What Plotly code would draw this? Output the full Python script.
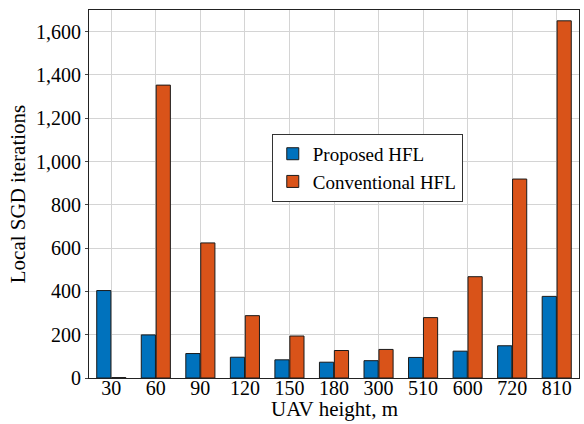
import plotly.graph_objects as go

heights = ["30", "60", "90", "120", "150", "180", "300", "510", "600", "720", "810"]
proposed = [404, 199, 113, 96, 84, 73, 80, 95, 124, 149, 377]
conventional = [2, 1353, 624, 288, 194, 127, 132, 279, 468, 919, 1650]
y_ticks = [0, 200, 400, 600, 800, 1000, 1200, 1400, 1600]

FONT = "Liberation Serif, Times New Roman, serif"

fig = go.Figure()
fig.add_trace(go.Bar(x=heights, y=proposed, name="Proposed HFL",
                     marker=dict(color="#0072BD", line=dict(color="#1a1a1a", width=1))))
fig.add_trace(go.Bar(x=heights, y=conventional, name="Conventional HFL",
                     marker=dict(color="#D95319", line=dict(color="#1a1a1a", width=1))))

fig.update_layout(
    width=584, height=424,
    margin=dict(l=89, r=5, t=10, b=46, autoexpand=False),
    paper_bgcolor="white", plot_bgcolor="white",
    barmode="group", bargap=0.33, bargroupgap=0.05,
    font=dict(family=FONT, size=20, color="black"),
    legend=dict(x=0.373, y=0.571, xanchor="left", yanchor="middle",
                bgcolor="white", bordercolor="#333", borderwidth=1,
                font=dict(family=FONT, size=19), tracegroupgap=0,
                itemwidth=30),
    showlegend=True,
    annotations=[dict(text="UAV height, m", xref="paper", yref="paper",
                      x=0.5, y=-0.083, xanchor="center", yanchor="middle",
                      showarrow=False, font=dict(family=FONT, size=21))],
)
fig.update_xaxes(
    type="category", range=[-0.5, 10.5], automargin=False,
    showgrid=True, gridcolor="#d4d4d4", gridwidth=1,
    showline=True, linecolor="#222", linewidth=1, mirror=True,
    ticks="", tickfont=dict(family=FONT, size=20), ticklabelstandoff=-8,
)
fig.update_yaxes(
    range=[0, 1700], tickvals=y_ticks, automargin=False,
    tickformat=",d",
    showgrid=True, gridcolor="#d4d4d4", gridwidth=1,
    showline=True, linecolor="#222", linewidth=1, mirror=True,
    ticks="outside", ticklen=3, tickcolor="#444",
    tickfont=dict(family=FONT, size=20),
    zeroline=False,
    title=dict(text="Local SGD iterations", font=dict(family=FONT, size=21), standoff=4),
)

fig.write_html("out.html", config={"displayModeBar": False},
               post_script="document.body.style.margin='0';document.body.style.overflow='hidden';")
